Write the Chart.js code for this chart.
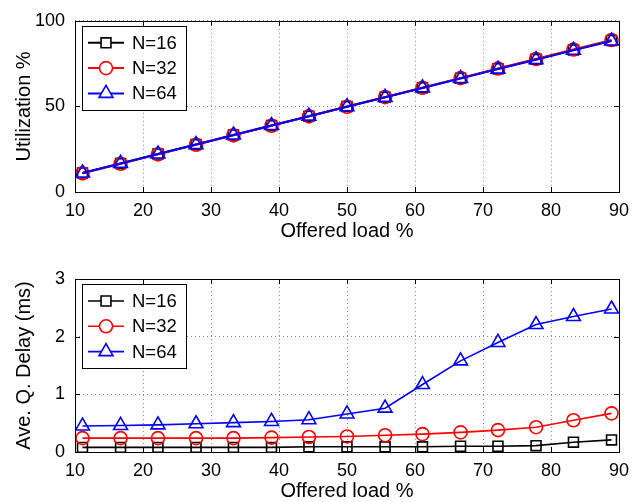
<!DOCTYPE html>
<html>
<head>
<meta charset="utf-8">
<script src="https://cdn.jsdelivr.net/npm/chart.js@4/dist/chart.umd.min.js"></script>
<style>
    body { margin: 0; background: #fff; overflow: hidden; }
    #wrap { position: relative; width: 642px; height: 502px; overflow: hidden; }
    canvas { position: absolute; left: 0; }
    #chartUtil { top: 0; }
    #chartDelay { top: 250px; }
</style>
</head>
<body>
<div id="wrap">
    <canvas id="chartUtil" width="642" height="250"></canvas>
    <canvas id="chartDelay" width="642" height="254"></canvas>
</div>
<script>
// offered load (x) shared by both plots
var offeredLoad = [11.1, 16.7, 22.2, 27.8, 33.3, 38.9, 44.4, 50.0, 55.6, 61.1, 66.7, 72.2, 77.8, 83.3, 88.9];
var xTicks = [10, 20, 30, 40, 50, 60, 70, 80, 90];

var seriesNames = ['N=16', 'N=32', 'N=64'];

// top plot: utilization %
var util16 = [11.1, 16.6, 22.2, 27.7, 33.3, 38.8, 44.3, 49.9, 55.4, 60.9, 66.5, 72.0, 77.5, 83.0, 88.5];
var util32 = [10.9, 16.5, 22.0, 27.6, 33.1, 38.7, 44.2, 49.8, 55.4, 60.9, 66.5, 72.1, 77.7, 83.2, 88.8];
var util64 = [11.1, 16.7, 22.2, 27.7, 33.3, 38.8, 44.3, 49.8, 55.3, 60.8, 66.3, 71.8, 77.3, 82.8, 88.2];
var utilTicks = [0, 50, 100];

// bottom plot: average queueing delay (ms)
var delay16 = [0.08, 0.08, 0.08, 0.08, 0.08, 0.08, 0.09, 0.09, 0.09, 0.09, 0.10, 0.10, 0.11, 0.17, 0.21];
var delay32 = [0.24, 0.24, 0.24, 0.24, 0.24, 0.25, 0.26, 0.27, 0.29, 0.31, 0.34, 0.38, 0.43, 0.55, 0.67];
var delay64 = [0.45, 0.46, 0.47, 0.49, 0.51, 0.53, 0.56, 0.66, 0.76, 1.17, 1.58, 1.90, 2.21, 2.35, 2.48];
var delayTicks = [0, 1, 2, 3];

var FONT = "'Liberation Sans', Arial, Helvetica, sans-serif";
var colors = ['#000000', '#ff0000', '#0000ff'];
var markers = ['rect', 'circle', 'triangle'];
var markerSize = [7, 6.5, 8];

function toPoints(ys) {
    return ys.map(function (y, i) { return {x: offeredLoad[i], y: y}; });
}

// frame, inward ticks and a matlab-like legend box inside the axes
var framePlugin = {
    id: 'frame',
    afterDraw: function (chart) {
        var ctx = chart.ctx;
        var a = chart.chartArea;
        var xs = chart.scales.x, ys = chart.scales.y;
        ctx.save();
        ctx.strokeStyle = '#000';
        ctx.lineWidth = 1;
        ctx.setLineDash([]);
        ctx.beginPath();
        xs.ticks.forEach(function (t) {
            var px = Math.round(xs.getPixelForValue(t.value)) + 0.5;
            ctx.moveTo(px, a.bottom); ctx.lineTo(px, a.bottom - 5);
            ctx.moveTo(px, a.top); ctx.lineTo(px, a.top + 5);
        });
        ys.ticks.forEach(function (t) {
            var py = Math.round(ys.getPixelForValue(t.value)) + 0.5;
            ctx.moveTo(a.left, py); ctx.lineTo(a.left + 5, py);
            ctx.moveTo(a.right, py); ctx.lineTo(a.right - 5, py);
        });
        ctx.stroke();
        ctx.strokeRect(Math.round(a.left) + 0.5, Math.round(a.top) + 0.5,
            Math.round(a.right - a.left), Math.round(a.bottom - a.top));

        // legend
        var lx = Math.round(a.left) + 7.5, ly = Math.round(a.top) + 5.5;
        ctx.fillStyle = '#fff';
        ctx.fillRect(lx, ly, 104, 84);
        ctx.strokeRect(lx, ly, 104, 84);
        chart.data.datasets.forEach(function (ds, i) {
            var rowY = a.top + 22 + i * 25.3;
            ctx.strokeStyle = ds.borderColor;
            ctx.lineWidth = ds.borderWidth;
            ctx.beginPath();
            ctx.moveTo(a.left + 13, rowY);
            ctx.lineTo(a.left + 49, rowY);
            ctx.stroke();
            ctx.fillStyle = '#fff';
            ctx.lineWidth = ds.pointBorderWidth;
            Chart.helpers.drawPoint(ctx, {
                pointStyle: ds.pointStyle, radius: ds.pointRadius,
                borderWidth: ds.pointBorderWidth, rotation: 0
            }, a.left + 31, rowY);
            ctx.fillStyle = '#000';
            ctx.font = '18.5px ' + FONT;
            ctx.textAlign = 'left';
            ctx.textBaseline = 'middle';
            ctx.fillText(ds.label, a.left + 57, rowY + 1);
        });
        ctx.restore();
    }
};

function makeChart(canvasId, series, yMin, yMax, yTicks, yTitle, lineW, pad) {
    var datasets = series.map(function (ys, i) {
        return {
            label: seriesNames[i],
            data: toPoints(ys),
            borderColor: colors[i],
            backgroundColor: 'rgba(255,255,255,0)',
            borderWidth: lineW,
            pointStyle: markers[i],
            pointRadius: markerSize[i],
            pointBorderWidth: 1.6,
            pointBorderColor: colors[i],
            pointBackgroundColor: 'rgba(255,255,255,0)',
            tension: 0,
            order: 3 - i
        };
    });
    return new Chart(document.getElementById(canvasId), {
        type: 'line',
        data: {datasets: datasets},
        plugins: [framePlugin],
        options: {
            responsive: false,
            animation: false,
            layout: {padding: {left: 0, right: 23, top: pad.top, bottom: 0}},
            plugins: {legend: {display: false}, tooltip: {enabled: false}},
            scales: {
                x: {
                    type: 'linear', min: 10, max: 90,
                    afterBuildTicks: function (s) { s.ticks = xTicks.map(function (v) { return {value: v}; }); },
                    afterFit: function (s) { s.height = pad.xh; },
                    grid: {color: '#8c8c8c', lineWidth: 1, drawTicks: false},
                    border: {display: false, dash: [1, 3]},
                    ticks: {color: '#000', font: {family: FONT, size: 18}, padding: pad.tick, maxRotation: 0},
                    title: {display: true, text: 'Offered load %', color: '#000',
                        font: {family: FONT, size: 20}, padding: {top: 0, bottom: pad.title}}
                },
                y: {
                    type: 'linear', min: yMin, max: yMax,
                    afterBuildTicks: function (s) { s.ticks = yTicks.map(function (v) { return {value: v}; }); },
                    afterFit: function (s) { s.width = 75; },
                    grid: {color: '#8c8c8c', lineWidth: 1, drawTicks: false},
                    border: {display: false, dash: [1, 3]},
                    ticks: {color: '#000', font: {family: FONT, size: 18}, padding: 10},
                    title: {display: true, text: yTitle, color: '#000',
                        font: {family: FONT, size: 20}, padding: {top: 12, bottom: 0}}
                }
            }
        }
    });
}

makeChart('chartUtil', [util16, util32, util64], 0, 100, utilTicks, 'Utilization %', 2,
    {top: 19, xh: 58, tick: 8, title: 7});
makeChart('chartDelay', [delay16, delay32, delay64], 0, 3, delayTicks, 'Ave. Q. Delay (ms)', 1.6,
    {top: 29, xh: 52, tick: 8, title: 1});
</script>
</body>
</html>
